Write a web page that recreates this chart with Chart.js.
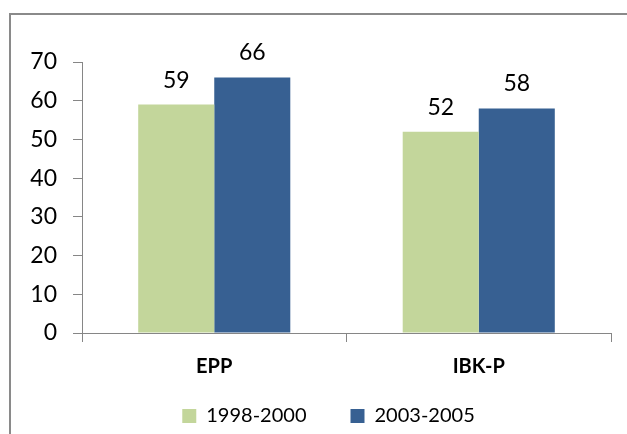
<!DOCTYPE html>
<html lang="en">
<head>
  <meta charset="utf-8">
  <title>EPP / IBK-P</title>
  <script src="https://cdn.jsdelivr.net/npm/chart.js@4.4.0/dist/chart.umd.min.js"></script>
  <style>
    html, body { margin: 0; padding: 0; background: #fff; }
    #wrap { width: 627px; height: 434px; position: relative; }
  </style>
</head>
<body>
  <div id="wrap"><canvas id="myChart"></canvas></div>
<script>
  const categories = ["EPP", "IBK-P"];
  const seriesNames = ["1998-2000", "2003-2005"];
  const values1998 = [59, 52];
  const values2003 = [66, 58];
  const yTicks = [0, 10, 20, 30, 40, 50, 60, 70];

  const fontFamily = "Lato, 'Open Sans', sans-serif";
  const axisGrey = "#868686";

  // frame around the whole chart (runs off the right and bottom edge)
  const framePlugin = {
    id: "frame",
    beforeDraw(chart) {
      const ctx = chart.ctx;
      ctx.save();
      ctx.strokeStyle = "#8a8a8a";
      ctx.lineWidth = 2;
      ctx.strokeRect(10, 14, 640, 440);
      ctx.restore();
    }
  };

  // value labels above every bar
  const valueLabels = {
    id: "valueLabels",
    afterDatasetsDraw(chart) {
      const ctx = chart.ctx;
      ctx.save();
      ctx.font = "23px " + fontFamily;
      ctx.fillStyle = "#000";
      ctx.textAlign = "center";
      ctx.textBaseline = "alphabetic";
      chart.data.datasets.forEach((ds, i) => {
        chart.getDatasetMeta(i).data.forEach((bar, j) => {
          ctx.fillText(ds.data[j], bar.x, bar.y - 17);
        });
      });
      ctx.restore();
    }
  };

  // nudge legend like the original, and let the x labels overflow their box
  const layoutTweaks = {
    id: "layoutTweaks",
    afterLayout(chart) {
      chart.legend.left += 18;
      chart.legend.right += 18;
      chart.legend.top += 2;
      chart.legend.bottom += 2;
      chart.scales.x.bottom = chart.scales.x.top + 60;
    }
  };

  const ctx = document.getElementById("myChart").getContext("2d");
  const chart = new Chart(ctx, {
    type: "bar",
    data: {
      labels: categories,
      datasets: [
        {
          label: seriesNames[0],
          data: values1998,
          backgroundColor: "#c3d69b",
          categoryPercentage: 0.575,
          barPercentage: 1
        },
        {
          label: seriesNames[1],
          data: values2003,
          backgroundColor: "#376092",
          categoryPercentage: 0.575,
          barPercentage: 1
        }
      ]
    },
    options: {
      responsive: true,
      maintainAspectRatio: false,
      animation: { duration: 0 },
      layout: { padding: { left: 10, top: 62, right: 16, bottom: 0 } },
      plugins: {
        tooltip: { enabled: false },
        legend: {
          position: "bottom",
          labels: {
            boxWidth: 14,
            boxHeight: 14,
            padding: 44,
            color: "#000",
            font: { family: fontFamily, size: 20 }
          }
        }
      },
      scales: {
        x: {
          grid: { drawOnChartArea: false, drawTicks: true, tickLength: 9, color: axisGrey, offset: true },
          border: { color: axisGrey, width: 1 },
          ticks: { color: "#000", padding: 13, font: { family: fontFamily, size: 20, weight: "bold" } },
          afterFit(scale) { scale.height = 27; }
        },
        y: {
          min: 0,
          max: 70,
          afterBuildTicks(scale) { scale.ticks = yTicks.map(v => ({ value: v })); },
          grid: { drawOnChartArea: false, drawTicks: true, tickLength: 9, color: axisGrey },
          border: { color: axisGrey, width: 1 },
          ticks: { color: "#000", padding: 16, font: { family: fontFamily, size: 23 } },
          afterFit(scale) { scale.width = 72; }
        }
      }
    },
    plugins: [framePlugin, valueLabels, layoutTweaks]
  });
</script>
</body>
</html>
